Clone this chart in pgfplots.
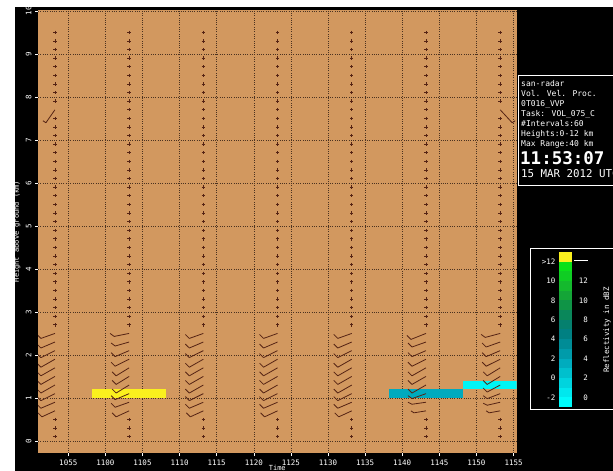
\documentclass[border=0pt]{standalone}
\usepackage{pgfplots}
\pgfplotsset{compat=1.18}
\usepackage{pgfplotstable}
\usepackage{fontspec}
\setmainfont{DejaVu Sans Mono}
\definecolor{bgtan}{RGB}{210,152,95}
\definecolor{barbc}{RGB}{85,35,20}
\definecolor{gridc}{RGB}{75,50,32}
\definecolor{yel}{RGB}{250,240,30}
\definecolor{teal2}{RGB}{0,170,190}
\definecolor{cyan2}{RGB}{0,245,245}

\pgfplotstableread[row sep=\\]{h\\0.1\\0.3\\0.5\\2.7\\2.9\\3.1\\3.3\\3.5\\3.7\\3.9\\4.1\\4.3\\4.5\\4.7\\4.9\\5.1\\5.3\\5.5\\5.7\\5.9\\6.1\\6.3\\6.5\\6.7\\6.9\\7.1\\7.3\\7.5\\7.7\\7.9\\8.1\\8.3\\8.5\\8.7\\8.9\\9.1\\9.3\\9.5\\}\dotsA
\pgfplotstableread[row sep=\\]{h\\0.1\\0.3\\0.5\\2.7\\2.9\\3.1\\3.3\\3.5\\3.7\\3.9\\4.1\\4.3\\4.5\\4.7\\4.9\\5.1\\5.3\\5.5\\5.7\\5.9\\6.1\\6.3\\6.5\\6.7\\6.9\\7.1\\7.3\\7.5\\7.9\\8.1\\8.3\\8.5\\8.7\\8.9\\9.1\\9.3\\9.5\\}\dotsB

% wind barbs: time (min after 10:00), height (km), staff (px right, px up), feather (px right, px up)
\pgfplotstableread{
t h u v fu fv
53.2 2.5 -14 -5 -4 4
53.2 2.3 -14 -6 -4 4
53.2 2.1 -14 -7 -4 4
53.2 1.9 -14 -8 -4 4
53.2 1.7 -14 -8 -4 4
53.2 1.5 -14 -8 -4 4
53.2 1.3 -14 -8 -4 4
53.2 1.1 -14 -7 -4 4
53.2 0.9 -14 -6 -4 4
53.2 0.7 -13 -6 -4 4
53.2 7.7 -9 -13 -3 2
63.2 2.5 -15 -3 -4 3
63.2 2.3 -14 -4 -4 3
63.2 2.1 -14 -6 -4 4
63.2 1.9 -14 -7 -4 4
63.2 1.7 -13 -8 -4 4
63.2 1.5 -13 -8 -4 4
63.2 1.3 -13 -8 -4 4
63.2 1.1 -14 -6 -4 4
63.2 0.9 -14 -5 -4 4
63.2 0.7 -13 -6 -4 4
73.2 2.5 -14 -5 -4 4
73.2 2.3 -14 -6 -4 4
73.2 2.1 -14 -7 -4 4
73.2 1.9 -14 -8 -4 4
73.2 1.7 -14 -8 -4 4
73.2 1.5 -14 -8 -4 4
73.2 1.3 -14 -8 -4 4
73.2 1.1 -14 -7 -4 4
73.2 0.9 -14 -6 -4 4
73.2 0.7 -13 -6 -4 4
83.2 2.5 -14 -5 -4 4
83.2 2.3 -14 -6 -4 4
83.2 2.1 -14 -7 -4 4
83.2 1.9 -14 -8 -4 4
83.2 1.7 -14 -8 -4 4
83.2 1.5 -14 -8 -4 4
83.2 1.3 -14 -8 -4 4
83.2 1.1 -14 -7 -4 4
83.2 0.9 -14 -6 -4 4
83.2 0.7 -13 -6 -4 4
93.2 2.5 -14 -5 -4 4
93.2 2.3 -14 -6 -4 4
93.2 2.1 -14 -7 -4 4
93.2 1.9 -14 -8 -4 4
93.2 1.7 -14 -8 -4 4
93.2 1.5 -14 -8 -4 4
93.2 1.3 -14 -8 -4 4
93.2 1.1 -14 -7 -4 4
93.2 0.9 -14 -6 -4 4
93.2 0.7 -13 -6 -4 4
103.2 2.5 -15 -6 -4 4
103.2 2.3 -14 -5 -4 4
103.2 2.1 -14 -6 -4 4
103.2 1.9 -14 -7 -4 4
103.2 1.7 -14 -8 -4 4
103.2 1.5 -14 -8 -4 4
103.2 1.3 -14 -8 -4 4
103.2 1.1 -14 -5 -4 3
103.2 0.9 -14 -2 -4 2
103.2 0.7 -12 -2 -3 2
113.2 2.5 -15 -4 -4 3
113.2 2.3 -14 -5 -4 4
113.2 2.1 -14 -6 -4 4
113.2 1.9 -14 -7 -4 4
113.2 1.7 -13 -8 -4 4
113.2 1.5 -13 -8 -4 4
113.2 1.3 -13 -7 -4 4
113.2 1.1 -13 -5 -4 3
113.2 0.9 -13 -3 -4 2
113.2 0.7 -11 -2 -3 2
113.2 7.7 12 -13 3 2
}\barbs

\begin{document}
\begin{tikzpicture}
\useasboundingbox (0,0) rectangle (613pt,471pt);
\fill[white] (0,0) rectangle (613pt,471pt);
\fill[black] (15pt,0) rectangle (613pt,464pt);

\begin{axis}[
  at={(38pt,18pt)}, anchor=south west,
  scale only axis, width=478.5pt, height=443pt,
  xmin=50.92, xmax=115.4, ymin=-0.28, ymax=10.02,
  axis background/.style={fill=bgtan},
  axis line style={draw=none},
  xtick={55,60,...,115},
  xticklabels={1055,1100,1105,1110,1115,1120,1125,1130,1135,1140,1145,1150,1155},
  ytick={0,...,10},
  grid=major,
  grid style={gridc, dash pattern=on 0.7pt off 1.6pt, line width=0.55pt},
  tick style={white, line width=0.5pt},
  tick align=outside, major tick length=3pt,
  xtick pos=bottom, ytick pos=left,
  /pgf/number format/assume math mode=true,
  ticklabel style={text=white, font=\fontsize{7.5}{8}\selectfont},
  yticklabel style={rotate=90, anchor=south},
  xlabel={Time}, ylabel={Height above ground (km)},
  label style={text=white, font=\fontsize{7}{8}\selectfont},
  xlabel style={at={(axis description cs:0.5,-0.034)}, anchor=center},
  ylabel style={at={(axis description cs:-0.044,0.5)}, anchor=center},
]
% reflectivity cells
\addplot[draw=none, fill=yel] coordinates {(58.2,1.0) (68.2,1.0) (68.2,1.2) (58.2,1.2)} -- cycle;
\addplot[draw=none, fill=teal2] coordinates {(98.2,1.0) (108.2,1.0) (108.2,1.2) (98.2,1.2)} -- cycle;
\addplot[draw=none, fill=cyan2] coordinates {(108.2,1.2) (118.2,1.2) (118.2,1.4) (108.2,1.4)} -- cycle;
% no-wind points
\addplot[only marks, mark=+, mark size=1.7pt, barbc, line width=0.8pt] table[x expr=53.2, y=h] \dotsB;
\addplot[only marks, mark=+, mark size=1.7pt, barbc, line width=0.8pt] table[x expr=63.2, y=h] \dotsA;
\addplot[only marks, mark=+, mark size=1.7pt, barbc, line width=0.8pt] table[x expr=73.2, y=h] \dotsA;
\addplot[only marks, mark=+, mark size=1.7pt, barbc, line width=0.8pt] table[x expr=83.2, y=h] \dotsA;
\addplot[only marks, mark=+, mark size=1.7pt, barbc, line width=0.8pt] table[x expr=93.2, y=h] \dotsA;
\addplot[only marks, mark=+, mark size=1.7pt, barbc, line width=0.8pt] table[x expr=103.2, y=h] \dotsA;
\addplot[only marks, mark=+, mark size=1.7pt, barbc, line width=0.8pt] table[x expr=113.2, y=h] \dotsB;
% wind barbs: staff and feather
\addplot[no markers, draw=barbc, line width=0.8pt, quiver={u=\thisrow{u}/7.42, v=\thisrow{v}/43.09}] table[x=t, y=h] \barbs;
\addplot[no markers, draw=barbc, line width=0.8pt, quiver={u=\thisrow{fu}/7.42, v=\thisrow{fv}/43.09}] table[x expr=\thisrow{t}+\thisrow{u}/7.42, y expr=\thisrow{h}+\thisrow{v}/43.09] \barbs;
\end{axis}

% info panel
\draw[white, line width=0.6pt] (518pt,396pt) rectangle (640pt,286pt);
\begin{scope}[every node/.style={anchor=base west, text=white, inner sep=0pt, font=\fontsize{8}{9}\selectfont}]
\node at (521pt,384pt) {san-radar};
\node at (521pt,374pt) {Vol. Vel. Proc.};
\node at (521pt,364pt) {0T016\_VVP};
\node at (521pt,354pt) {Task: VOL\_075\_C};
\node at (521pt,344pt) {\#Intervals:60};
\node at (521pt,334pt) {Heights:0-12 km};
\node at (521pt,324pt) {Max Range:40 km};
\node[font=\fontsize{17.5}{18}\selectfont\bfseries] at (520pt,306pt) {11:53:07};
\node[font=\fontsize{10.8}{12}\selectfont] at (521pt,293.5pt) {15 MAR 2012 UTC};
\end{scope}

% colour bar
\draw[white, line width=0.6pt] (530pt,223pt) rectangle (640pt,62pt);
\begin{axis}[
  at={(559pt,64pt)}, anchor=south west,
  scale only axis, width=13pt, height=155pt,
  xmin=0, xmax=1, ymin=-3, ymax=13,
  axis line style={draw=none}, xtick=\empty,
  ytick={-2,0,...,12}, yticklabels={-2,0,2,4,6,8,10,{>12}},
  ytick pos=left, major tick length=0pt,
  yticklabel style={text=white, font=\fontsize{7.5}{8}\selectfont},
]
\addplot[draw=none, fill={rgb,255:red,0;green,250;blue,250}] coordinates {(0,-3) (1,-3) (1,-2) (0,-2)} -- cycle;
\addplot[draw=none, fill={rgb,255:red,0;green,232;blue,238}] coordinates {(0,-2) (1,-2) (1,-1) (0,-1)} -- cycle;
\addplot[draw=none, fill={rgb,255:red,0;green,212;blue,222}] coordinates {(0,-1) (1,-1) (1,0) (0,0)} -- cycle;
\addplot[draw=none, fill={rgb,255:red,0;green,192;blue,205}] coordinates {(0,0) (1,0) (1,1) (0,1)} -- cycle;
\addplot[draw=none, fill={rgb,255:red,0;green,172;blue,190}] coordinates {(0,1) (1,1) (1,2) (0,2)} -- cycle;
\addplot[draw=none, fill={rgb,255:red,0;green,155;blue,170}] coordinates {(0,2) (1,2) (1,3) (0,3)} -- cycle;
\addplot[draw=none, fill={rgb,255:red,0;green,140;blue,150}] coordinates {(0,3) (1,3) (1,4) (0,4)} -- cycle;
\addplot[draw=none, fill={rgb,255:red,0;green,128;blue,130}] coordinates {(0,4) (1,4) (1,5) (0,5)} -- cycle;
\addplot[draw=none, fill={rgb,255:red,5;green,128;blue,110}] coordinates {(0,5) (1,5) (1,6) (0,6)} -- cycle;
\addplot[draw=none, fill={rgb,255:red,10;green,135;blue,90}] coordinates {(0,6) (1,6) (1,7) (0,7)} -- cycle;
\addplot[draw=none, fill={rgb,255:red,15;green,148;blue,70}] coordinates {(0,7) (1,7) (1,8) (0,8)} -- cycle;
\addplot[draw=none, fill={rgb,255:red,20;green,165;blue,55}] coordinates {(0,8) (1,8) (1,9) (0,9)} -- cycle;
\addplot[draw=none, fill={rgb,255:red,20;green,185;blue,45}] coordinates {(0,9) (1,9) (1,10) (0,10)} -- cycle;
\addplot[draw=none, fill={rgb,255:red,15;green,205;blue,35}] coordinates {(0,10) (1,10) (1,11) (0,11)} -- cycle;
\addplot[draw=none, fill={rgb,255:red,10;green,225;blue,25}] coordinates {(0,11) (1,11) (1,12) (0,12)} -- cycle;
\addplot[draw=none, fill={rgb,255:red,250;green,240;blue,30}] coordinates {(0,12) (1,12) (1,13) (0,13)} -- cycle;
\end{axis}
\begin{axis}[
  at={(559pt,64pt)}, anchor=south west,
  scale only axis, width=13pt, height=155pt,
  xmin=0, xmax=1, ymin=-3, ymax=13,
  axis line style={draw=none}, xtick=\empty,
  ytick={-2,0,...,12}, yticklabels={0,2,4,6,8,10,12,{\rule[2.5pt]{14pt}{0.6pt}}},
  ytick pos=right, yticklabel pos=right, major tick length=0pt,
  yticklabel style={text=white, anchor=east, xshift=19.5pt, font=\fontsize{7.5}{8}\selectfont},
]
\end{axis}
\node[rotate=90, text=white, font=\fontsize{7.5}{8}\selectfont] at (607pt,141pt) {Reflectivity in dBZ};
\end{tikzpicture}
\end{document}
